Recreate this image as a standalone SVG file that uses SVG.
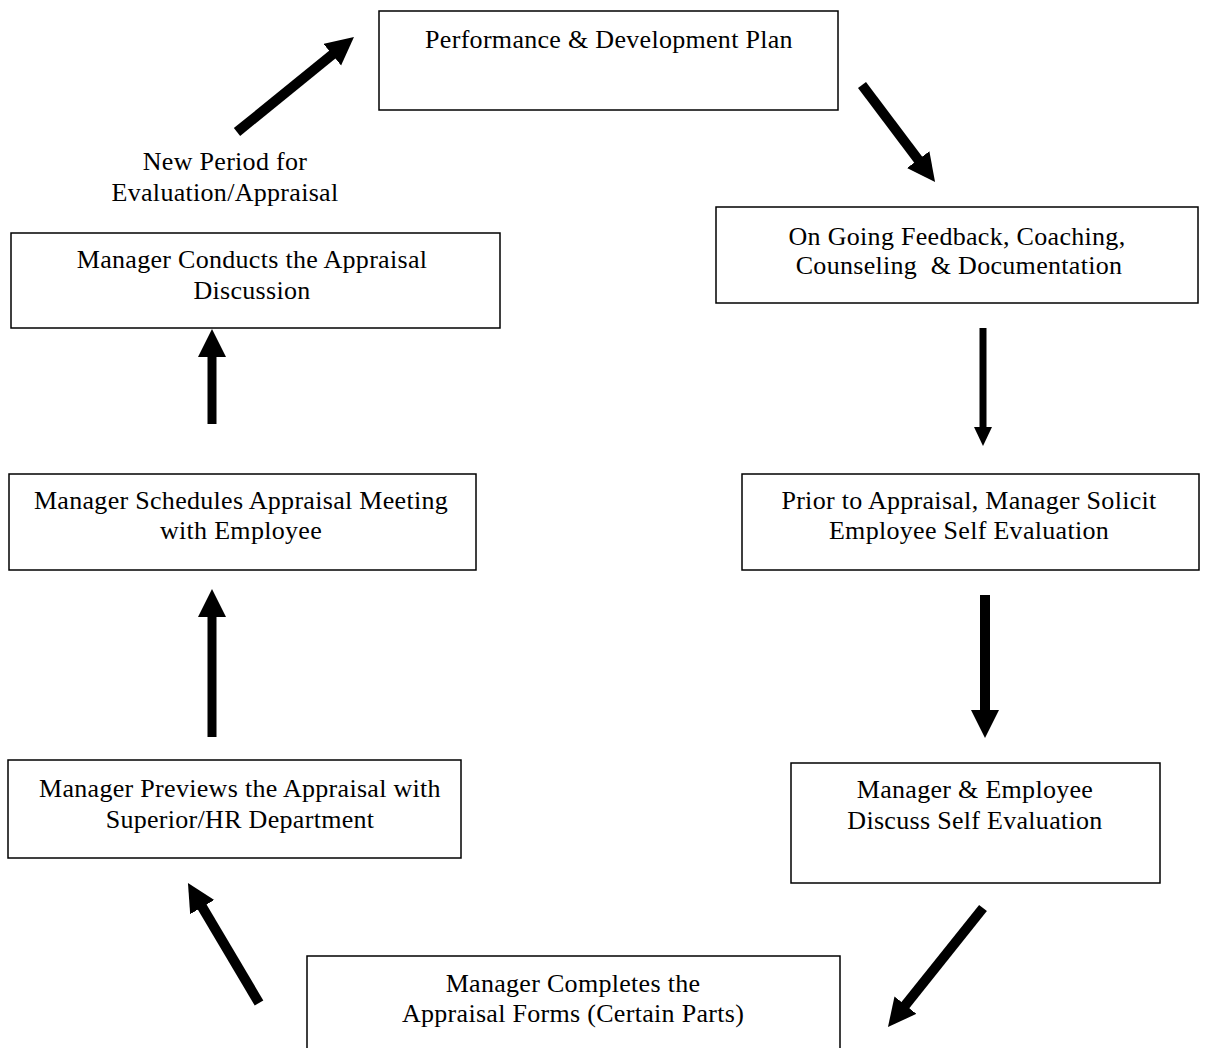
<svg xmlns="http://www.w3.org/2000/svg" width="1231" height="1048" viewBox="0 0 1231 1048">
<style>
.box{fill:#fff;stroke:#000;stroke-width:1.5}
.t{font-family:"Liberation Serif","Times New Roman",serif;font-size:26px;letter-spacing:0.3px;fill:#000;text-anchor:middle}
.a{stroke:#000;fill:none;stroke-width:10}
</style>
<defs>
<marker id="hb" markerUnits="userSpaceOnUse" markerWidth="32" markerHeight="32" refX="2" refY="14" orient="auto" viewBox="0 0 32 32">
<path d="M0,0 L28,14 L0,28 z" fill="#000"/>
</marker>
<marker id="hs" markerUnits="userSpaceOnUse" markerWidth="24" markerHeight="24" refX="2" refY="9" orient="auto" viewBox="0 0 24 24">
<path d="M0,0 L19,9 L0,18 z" fill="#000"/>
</marker>
</defs>
<rect width="1231" height="1048" fill="#fff"/>
<g id="n1"><rect class="box" x="379" y="11" width="459" height="99"/><text class="t" x="609" y="48">Performance &amp; Development Plan</text></g>
<g id="n2"><rect class="box" x="716" y="207" width="482" height="96"/><text class="t" x="957" y="245">On Going Feedback, Coaching,</text><text class="t" x="959" y="274" style="white-space:pre">Counseling  &amp; Documentation</text></g>
<g id="n3"><rect class="box" x="742" y="474" width="457" height="96"/><text class="t" x="969" y="509">Prior to Appraisal, Manager Solicit</text><text class="t" x="969" y="539">Employee Self Evaluation</text></g>
<g id="n4"><rect class="box" x="791" y="763" width="369" height="120"/><text class="t" x="975" y="798">Manager &amp; Employee</text><text class="t" x="975" y="829">Discuss Self Evaluation</text></g>
<g id="n5"><rect class="box" x="307" y="956" width="533" height="120"/><text class="t" x="573" y="992">Manager Completes the</text><text class="t" x="573" y="1022">Appraisal Forms (Certain Parts)</text></g>
<g id="n6"><rect class="box" x="8" y="760" width="453" height="98"/><text class="t" x="240" y="797">Manager Previews the Appraisal with</text><text class="t" x="240" y="828">Superior/HR Department</text></g>
<g id="n7"><rect class="box" x="9" y="474" width="467" height="96"/><text class="t" x="241" y="509">Manager Schedules Appraisal Meeting</text><text class="t" x="241" y="539">with Employee</text></g>
<g id="n8"><rect class="box" x="11" y="233" width="489" height="95"/><text class="t" x="252" y="268">Manager Conducts the Appraisal</text><text class="t" x="252" y="299">Discussion</text></g>
<g id="lbl"><text class="t" x="225" y="170">New Period for</text><text class="t" x="225" y="201">Evaluation/Appraisal</text></g>
<g id="connectors">
<line class="a" x1="237" y1="132" x2="333.8" y2="53.4" marker-end="url(#hb)"/>
<line class="a" x1="862" y1="85" x2="919.4" y2="161.2" marker-end="url(#hb)"/>
<line class="a" style="stroke-width:7" x1="983" y1="328" x2="983" y2="429" marker-end="url(#hs)"/>
<line class="a" x1="985" y1="595" x2="985" y2="712" marker-end="url(#hb)"/>
<line class="a" style="stroke-width:9" x1="212" y1="424" x2="212" y2="355" marker-end="url(#hb)"/>
<line class="a" style="stroke-width:9" x1="212" y1="737" x2="212" y2="615" marker-end="url(#hb)"/>
<line class="a" x1="259" y1="1003" x2="201.2" y2="905.4" marker-end="url(#hb)"/>
<line class="a" x1="983" y1="908" x2="904.2" y2="1006.7" marker-end="url(#hb)"/>
</g>
</svg>
